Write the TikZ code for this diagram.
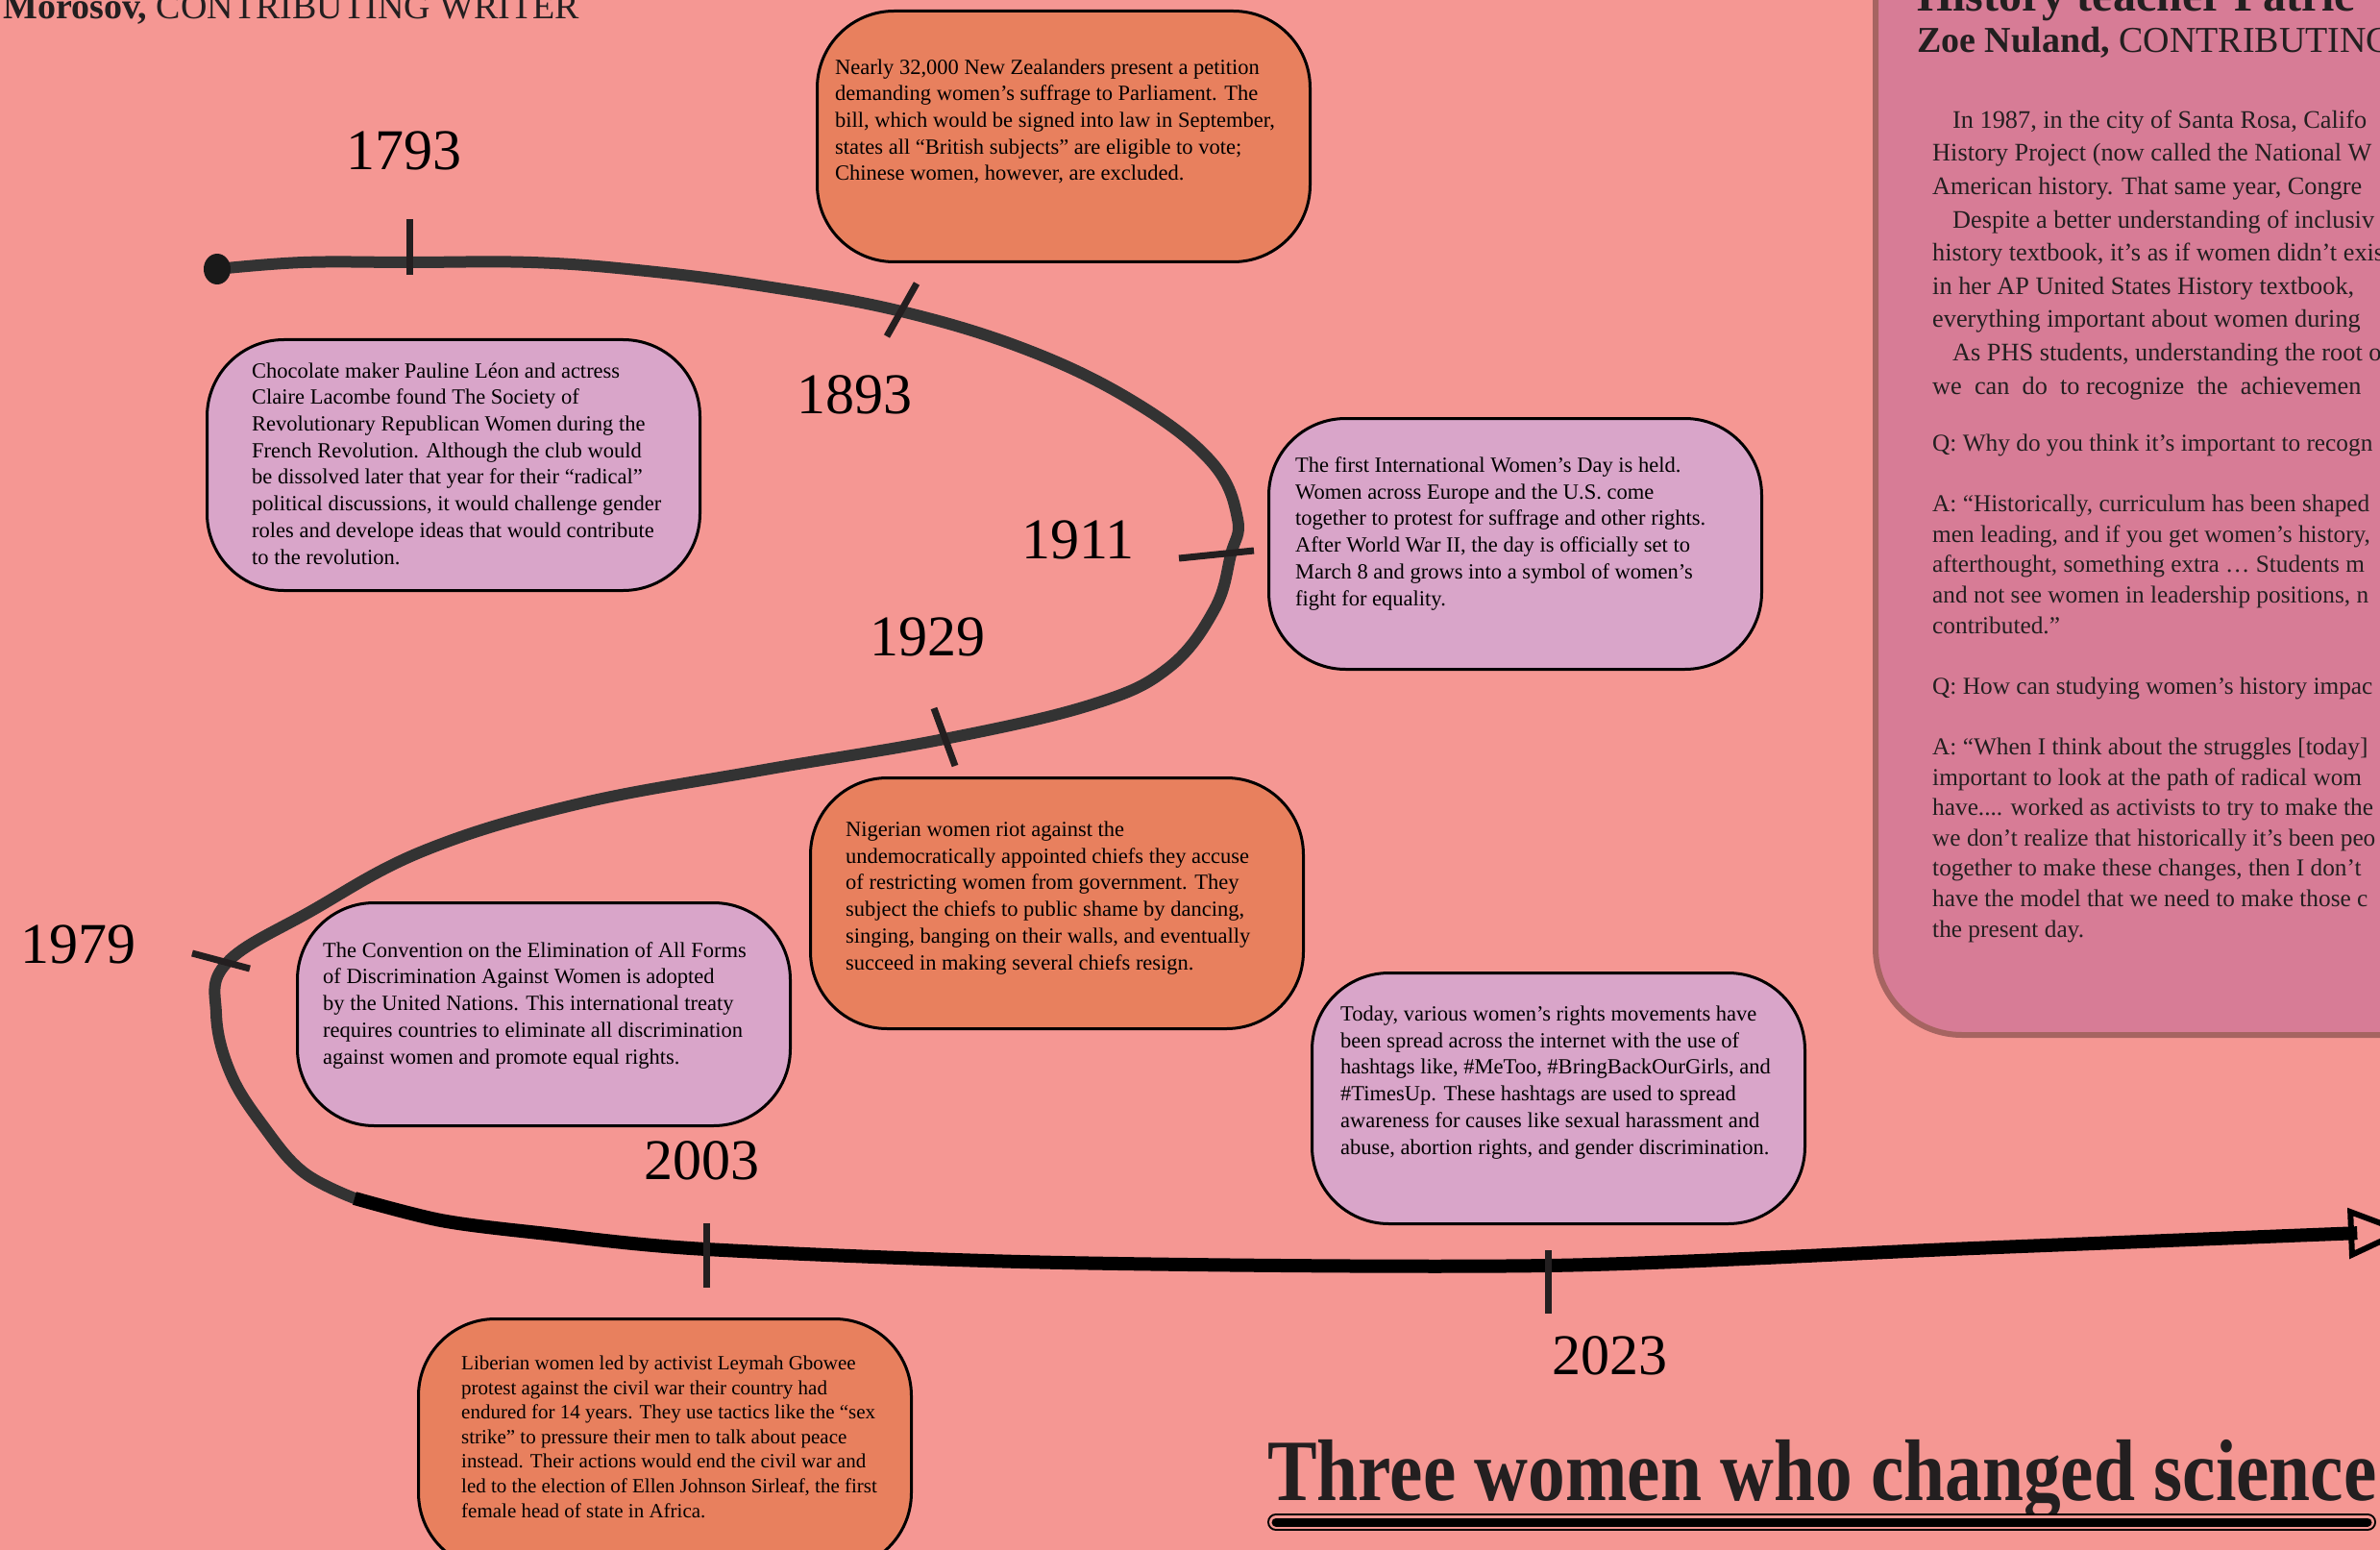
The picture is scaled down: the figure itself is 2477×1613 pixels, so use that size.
\documentclass[tikz,border=0pt]{standalone}
\usepackage{fontspec}
\usepackage{graphicx}
\setmainfont{Liberation Serif}
\usetikzlibrary{arrows.meta}

\definecolor{pagebg}{HTML}{F59793}
\definecolor{eventorange}{HTML}{E8805E}
\definecolor{eventlilac}{HTML}{D9A5C9}
\definecolor{sidepink}{HTML}{D77C96}
\definecolor{sideedge}{HTML}{A66461}
\definecolor{lineink}{HTML}{333333}
\definecolor{inkdark}{HTML}{231F20}

\begin{document}
\begin{tikzpicture}
  [x=1pt, y=-1pt,
   event box/.style={draw=black, line width=3pt, rounded corners=80pt,
     anchor=north west, minimum width=513pt, minimum height=261pt},
   % texts are placed at the baseline of their last line
   event text/.style={anchor=base west, align=left, inner sep=0pt,
     font=\fontsize{22.5}{27.7}\selectfont},
   panel text/.style={anchor=base west, align=left, inner sep=0pt,
     text=inkdark},
   year/.style={font=\fontsize{60}{60}\selectfont},
   year tick/.style={inkdark, line width=7pt},
   old line/.style={lineink, line width=12pt, line cap=round},
   new line/.style={black, line width=14pt,
     -{Triangle[open, length=64pt, width=52pt, line width=6pt]}},
   title rule/.style={black, line width=18pt, line cap=round,
     postaction={draw, pagebg, line width=14pt},
     postaction={draw, black, line width=9pt}},
  ]
  \useasboundingbox (0,0) rectangle (2477,1613);
  \fill[pagebg] (0,0) rectangle (2477,1613);

  % side article
  \node[draw=sideedge, fill=sidepink, line width=6pt, rounded corners=90pt,
    anchor=south west, minimum width=800pt, minimum height=1200pt]
    (panel) at (1949,1080) {};
  \node[panel text, font=\fontsize{48}{48}\selectfont\bfseries]
    (panel head) at (1995,12) {History teacher Patric};
  \node[panel text, font=\fontsize{38}{38}\selectfont]
    (panel byline) at (1995,55) {\textbf{Zoe Nuland,} CONTRIBUTING};
  \node[panel text, font=\fontsize{26.3}{34.6}\selectfont]
    (panel intro) at (2011,410)
    {\hspace*{21pt}In 1987, in the city of Santa Rosa, Califo\\
     History Project (now called the National W\\
     American history. That same year, Congre\\
     \hspace*{21pt}Despite a better understanding of inclusiv\\
     history textbook, it’s as if women didn’t exis\\
     in her AP United States History textbook,\\
     everything important about women during\\
     \hspace*{21pt}As PHS students, understanding the root o\\
     we \ can \ do \ to recognize \ the \ achievemen};
  \node[panel text, font=\fontsize{25.3}{31.6}\selectfont]
    (panel qa) at (2011,975)
    {Q: Why do you think it’s important to recogn\\[31.6pt]
     A: “Historically, curriculum has been shaped\\
     men leading, and if you get women’s history,\\
     afterthought, something extra … Students m\\
     and not see women in leadership positions, n\\
     contributed.”\\[31.6pt]
     Q: How can studying women’s history impac\\[31.6pt]
     A: “When I think about the struggles [today]\\
     important to look at the path of radical wom\\
     have.... worked as activists to try to make the\\
     we don’t realize that historically it’s been peo\\
     together to make these changes, then I don’t\\
     have the model that we need to make those c\\
     the present day.};

  % byline and title
  \node[panel text, font=\fontsize{38}{38}\selectfont]
    (byline) at (3,20) {\textbf{Morosov,} CONTRIBUTING WRITER};
  \node[panel text, font=\fontsize{91}{91}\selectfont\bfseries]
    (title) at (1319,1561)
    {\scalebox{0.85}[1]{Three women who changed science}};
  \coordinate (rule west) at (1328,1584);
  \coordinate (rule east) at (2464,1584);
  \draw[title rule] (rule west) -- (rule east);

  % points on the time line
  \coordinate (start) at (226,280);
  \coordinate (p1793) at (426,273);
  \coordinate (p1893) at (938,324);
  \coordinate (p1911) at (1281,577);
  \coordinate (p1929) at (983,769);
  \coordinate (p1979) at (236,1002);
  \coordinate (turn) at (369,1247);
  \coordinate (p2003) at (735,1300);
  \coordinate (p2023) at (1611,1317);
  \coordinate (stop) at (2508,1281);

  \draw[old line] plot[smooth, tension=0.65] coordinates {(start)
    (316,273) (p1793) (553,273) (663,281) (790,297) (p1893) (1074,366)
    (1185,421) (1262,482) (1288,540) (p1911) (1264,634) (1216,695)
    (1137,733) (p1929) (790,802) (600,837) (442,885) (324,948) (p1979)
    (225,1055) (240,1117) (275,1173) (316,1220) (turn)};
  \draw[new line] plot[smooth] coordinates {(turn) (459,1270) (561,1283)
    (p2003) (1106,1314) (p2023) (2054,1299) (stop)};
  \fill[black!90] (start) ellipse [x radius=14, y radius=16];

  % ticks
  \draw[year tick] (p1793) ++(0,-45) -- ++(0,58);
  \draw[year tick] (p1893) ++(16,-29) -- ++(-31,55);
  \draw[year tick] (p1911) ++(-54,4) -- ++(78,-8);
  \draw[year tick] (p1929) ++(-11,-32) -- ++(22,60);
  \draw[year tick] (p1979) ++(-36,-10) -- ++(60,16);
  \draw[year tick] (p2003) ++(0,-27) -- ++(0,67);
  \draw[year tick] (p2023) ++(0,-16) -- ++(0,66);

  % years
  \node[year] (y1793) at (420,157) {1793};
  \node[year] (y1893) at (889,411) {1893};
  \node[year] (y1911) at (1122,562) {1911};
  \node[year] (y1929) at (965,663) {1929};
  \node[year] (y1979) at (81,983) {1979};
  \node[year] (y2003) at (730,1208) {2003};
  \node[year] (y2023) at (1675,1411) {2023};

  % events
  \node[event box, fill=eventorange] (b1893) at (849,10) {};
  \node[event text] (t1893) at (869,188)
    {Nearly 32,000 New Zealanders present a petition\\
     demanding women’s suffrage to Parliament. The\\
     bill, which would be signed into law in September,\\
     states all “British subjects” are eligible to vote;\\
     Chinese women, however, are excluded.};

  \node[event box, fill=eventlilac] (b1793) at (214,352) {};
  \node[event text] (t1793) at (262,587)
    {Chocolate maker Pauline Léon and actress\\
     Claire Lacombe found The Society of\\
     Revolutionary Republican Women during the\\
     French Revolution. Although the club would\\
     be dissolved later that year for their “radical”\\
     political discussions, it would challenge gender\\
     roles and develope ideas that would contribute\\
     to the revolution.};

  \node[event box, fill=eventlilac] (b1911) at (1319,434) {};
  \node[event text] (t1911) at (1348,630)
    {The first International Women’s Day is held.\\
     Women across Europe and the U.S. come\\
     together to protest for suffrage and other rights.\\
     After World War II, the day is officially set to\\
     March 8 and grows into a symbol of women’s\\
     fight for equality.};

  \node[event box, fill=eventorange] (b1929) at (842,808) {};
  \node[event text] (t1929) at (880,1009)
    {Nigerian women riot against the\\
     undemocratically appointed chiefs they accuse\\
     of restricting women from government. They\\
     subject the chiefs to public shame by dancing,\\
     singing, banging on their walls, and eventually\\
     succeed in making several chiefs resign.};

  \node[event box, fill=eventlilac, minimum height=232pt] (b1979) at (308,938) {};
  \node[event text] (t1979) at (336,1107)
    {The Convention on the Elimination of All Forms\\
     of Discrimination Against Women is adopted\\
     by the United Nations. This international treaty\\
     requires countries to eliminate all discrimination\\
     against women and promote equal rights.};

  \node[event box, fill=eventlilac] (b2023) at (1364,1011) {};
  \node[event text] (t2023) at (1395,1201)
    {Today, various women’s rights movements have\\
     been spread across the internet with the use of\\
     hashtags like, \#MeToo, \#BringBackOurGirls, and\\
     \#TimesUp. These hashtags are used to spread\\
     awareness for causes like sexual harassment and\\
     abuse, abortion rights, and gender discrimination.};

  \node[event box, fill=eventorange] (b2003) at (434,1371) {};
  \node[event text, font=\fontsize{21}{25.6}\selectfont] (t2003) at (480,1579)
    {Liberian women led by activist Leymah Gbowee\\
     protest against the civil war their country had\\
     endured for 14 years. They use tactics like the “sex\\
     strike” to pressure their men to talk about peace\\
     instead. Their actions would end the civil war and\\
     led to the election of Ellen Johnson Sirleaf, the first\\
     female head of state in Africa.};
\end{tikzpicture}
\end{document}
